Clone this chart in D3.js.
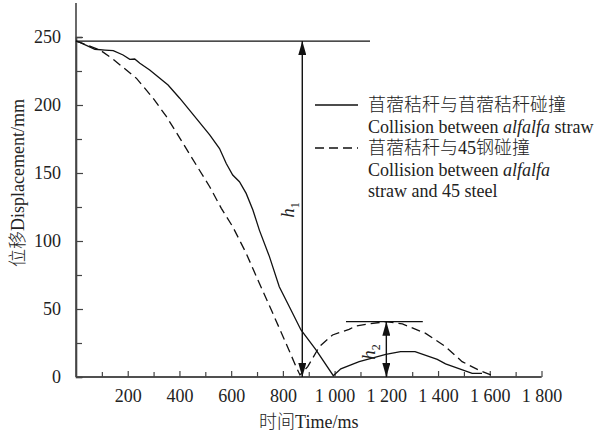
<!DOCTYPE html>
<html><head><meta charset="utf-8">
<script src="https://cdn.jsdelivr.net/npm/d3@7"></script>
<style>
html,body{margin:0;padding:0;background:#fff;}
svg text{font-family:"Liberation Serif","Noto Sans CJK SC",serif;fill:#222;font-weight:300;}
</style></head>
<body>
<svg id="c" width="603" height="439"></svg>
<script>
// Data
const straw = [[0,247],[15,246],[73,241],[112,240.4],[144,240],[182,236.8],[208,233.6],[227,233.8],[247,230.7],[285,225.7],[356,214.7],[401,205],[465,190.2],[517,178],[555,168],[581,157],[606,148.5],[632,143.6],[658,135],[684,122.8],[709,108],[748,88.5],[786,66.4],[825,51.7],[870,34.6],[928,19.9],[995,1],[1024,6],[1095,11.3],[1198,16.6],[1255,18.6],[1311,18.6],[1397,12.9],[1429,9.6],[1532,2.7],[1570,2.7]];
const steel = [[0,247],[15,246],[93,240.4],[144,233.6],[234,219.6],[298,205],[350,191.4],[414,171.8],[465,155.9],[517,139.9],[562,124],[606,110.5],[658,91],[709,68.9],[761,46.8],[812,24.8],[851,7.6],[866,1.5],[896,7.6],[941,22.3],[992,30.9],[1056,35],[1082,37.5],[1133,39],[1198,40.7],[1262,39],[1352,32.1],[1429,22.3],[1493,11.3],[1557,5.1],[1615,0.7]];
const xMajor = [200,400,600,800,1000,1200,1400,1600,1800];
const xMinor = [100,300,500,700,900,1100,1300,1500,1700];
const yMajor = [0,50,100,150,200,250];
const yMinor = [25,75,125,175,225];
const h1 = {x:875, top:247, lineStart:0, lineEnd:1137};
const h2 = {x:1200, top:40.7, lineStart:1044, lineEnd:1341};
const legendItems = [
  {dash:null, lines:[["苜蓿秸秆与苜蓿秸秆碰撞"],["Collision between ",{i:"alfalfa"}," straw"]]},
  {dash:"9,5", lines:[["苜蓿秸秆与45钢碰撞"],["Collision between ",{i:"alfalfa"}],["straw and 45 steel"]]}
];

const svg = d3.select("#c");
const x = d3.scaleLinear().domain([0,1800]).range([76,541.5]);
const y = d3.scaleLinear().domain([0,250]).range([377,37]);

// arrow marker
const defs = svg.append("defs");
defs.append("marker").attr("id","ah").attr("markerUnits","userSpaceOnUse")
  .attr("viewBox","0 0 14 8").attr("refX",14).attr("refY",4)
  .attr("markerWidth",14).attr("markerHeight",8).attr("orient","auto-start-reverse")
  .append("path").attr("d","M0,0L14,4L0,8Z").attr("fill","#111");

// axes
const fmt = d => d>=1000 ? d3.format(",")(d).replace(","," ") : String(d);
const gx = svg.append("g").attr("transform",`translate(0,${y(0)})`);
gx.call(d3.axisBottom(x).tickValues(xMajor).tickSize(-6).tickPadding(12).tickFormat(fmt));
gx.append("g").call(d3.axisBottom(x).tickValues(xMinor).tickSize(-5).tickFormat(""));
gx.selectAll(".domain").attr("d",`M${x(0)},0H${x(1800)}`);
const gy = svg.append("g").attr("transform",`translate(${x(0)},0)`);
gy.call(d3.axisLeft(y).tickValues(yMajor).tickSize(-7).tickPadding(15));
gy.append("g").call(d3.axisLeft(y).tickValues(yMinor).tickSize(-6).tickFormat(""));
gy.select(".domain").attr("d",`M0,${y(0)}V3`);
svg.selectAll(".domain").attr("stroke","#444").attr("stroke-width",1.6);
svg.selectAll(".tick line").attr("stroke","#444").attr("stroke-width",1.2);
svg.selectAll(".tick text").attr("font-size",18).attr("font-family",null).style("fill","#222");

// axis titles
svg.append("text").attr("x",(x(0)+x(1800))/2).attr("y",428).attr("text-anchor","middle")
  .attr("font-size",18).text("时间Time/ms");
svg.append("text").attr("transform",`translate(24,${183}) rotate(-90)`).attr("text-anchor","middle")
  .attr("font-size",18).text("位移Displacement/mm");

// curves
const line = d3.line().x(d=>x(d[0])).y(d=>y(d[1]));
svg.append("path").datum(straw).attr("d",line).attr("fill","none").attr("stroke","#111").attr("stroke-width",1.3);
svg.append("path").datum(steel).attr("d",line).attr("fill","none").attr("stroke","#111").attr("stroke-width",1.3).attr("stroke-dasharray","9,5");

// h1 / h2 annotations
[h1,h2].forEach((h,i)=>{
  svg.append("line").attr("x1",x(h.lineStart)).attr("x2",x(h.lineEnd)).attr("y1",y(h.top)).attr("y2",y(h.top))
    .attr("stroke","#111").attr("stroke-width",1.4);
  svg.append("line").attr("x1",x(h.x)).attr("x2",x(h.x)).attr("y1",y(h.top)).attr("y2",y(0))
    .attr("stroke","#111").attr("stroke-width",1.4)
    .attr("marker-start","url(#ah)").attr("marker-end","url(#ah)");
});
function hLabel(px,py,sub){
  const t = svg.append("text").attr("transform",`translate(${px},${py}) rotate(-90)`).attr("text-anchor","middle").attr("font-size",19);
  t.append("tspan").attr("font-style","italic").text("h");
  t.append("tspan").attr("font-size",12).attr("dy",5).text(sub);
}
hLabel(x(h1.x)-8, 210, "1");
hLabel(x(h2.x)-11, 352, "2");

// legend
let ly = 105;
legendItems.forEach(it=>{
  svg.append("line").attr("x1",315).attr("x2",358).attr("y1",ly).attr("y2",ly)
    .attr("stroke","#111").attr("stroke-width",1.3).attr("stroke-dasharray",it.dash);
  it.lines.forEach(parts=>{
    const t = svg.append("text").attr("x",368).attr("y",ly).attr("dy","0.35em").attr("font-size",18);
    parts.forEach(p=>{
      if(typeof p==="string") t.append("tspan").text(p);
      else t.append("tspan").attr("font-style","italic").text(p.i);
    });
    ly += 21.5;
  });
});
</script>
</body></html>
